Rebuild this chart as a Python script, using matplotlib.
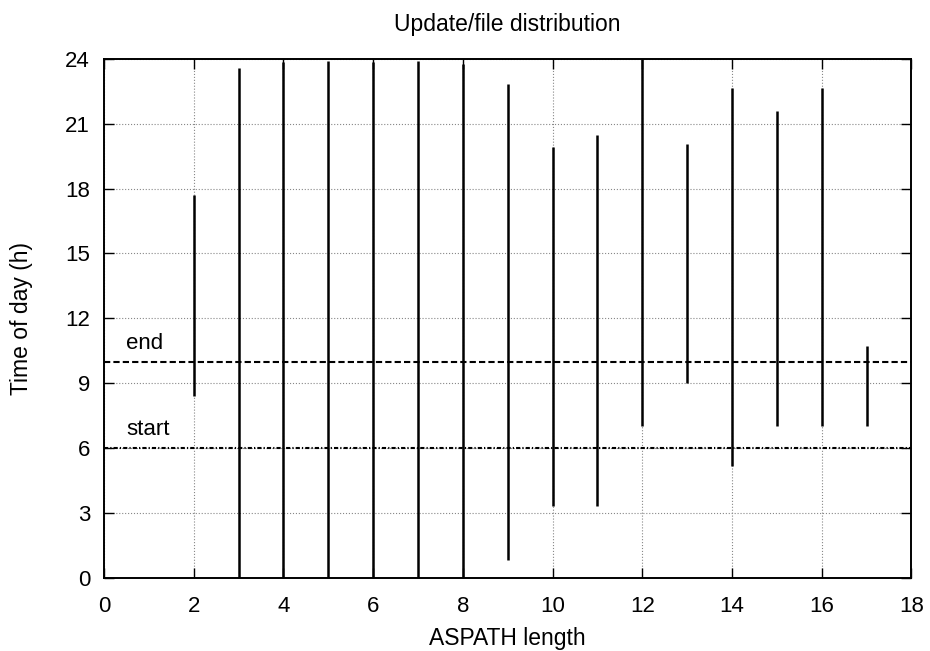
import matplotlib
matplotlib.use('Agg')
import matplotlib.pyplot as plt

plt.rcParams['font.family'] = ['Liberation Sans', 'DejaVu Sans']

# ASPATH length and first/last update time (hours)
aspath_len = [2, 3, 4, 5, 6, 7, 8, 9, 10, 11, 12, 13, 14, 15, 16, 17]
t_first = [8.4, 0.0, 0.0, 0.0, 0.0, 0.0, 0.0, 0.82, 3.32, 3.32, 7.0, 9.0, 5.17, 7.0, 7.0, 7.0]
t_last = [17.7, 23.58, 23.85, 23.92, 23.85, 23.92, 23.78, 22.84, 19.91, 20.5, 24.0, 20.08, 22.66, 21.6, 22.66, 10.74]
start_h = 6
end_h = 10

fig = plt.figure(figsize=(9.3, 6.51), dpi=100)
ax = fig.add_axes([0.1118, 0.1126, 0.8683, 0.7968])

ax.vlines(aspath_len, t_first, t_last, colors='black', linewidth=1.8, zorder=3)
ax.axhline(end_h, color='black', linestyle=(0, (3, 1.5)), linewidth=1.5, zorder=2)
ax.axhline(start_h, color='black', linestyle=(0, (2, 1, 0.6, 1)), linewidth=1.5, zorder=2)
ax.text(0.5, 10.58, 'end', fontsize=16, va='baseline')
ax.text(0.5, 6.6, 'start', fontsize=16, va='baseline')

ax.set_xlim(0, 18)
ax.set_ylim(0, 24)
ax.set_xticks(range(0, 19, 2))
ax.set_yticks(range(0, 25, 3))
ax.grid(True, color='#888888', linestyle=':', linewidth=0.8)
ax.tick_params(direction='in', top=True, right=True, labelsize=16, length=7, width=1)
ax.tick_params(axis='x', pad=13)
ax.tick_params(axis='y', pad=10)
for s in ax.spines.values():
    s.set_linewidth(1.4)

ax.set_xlabel('ASPATH length', fontsize=16.5)
ax.set_ylabel('Time of day (h)', fontsize=16.5)
ax.xaxis.label.set_va('baseline')
ax.xaxis.set_label_coords(0.5, -0.1297)
ax.yaxis.label.set_va('center')
ax.yaxis.set_label_coords(-0.1019, 0.5)
ax.set_title('Update/file distribution', fontsize=16.5, y=1.054, va='baseline', pad=0)

fig.savefig('out.png', dpi=100)
